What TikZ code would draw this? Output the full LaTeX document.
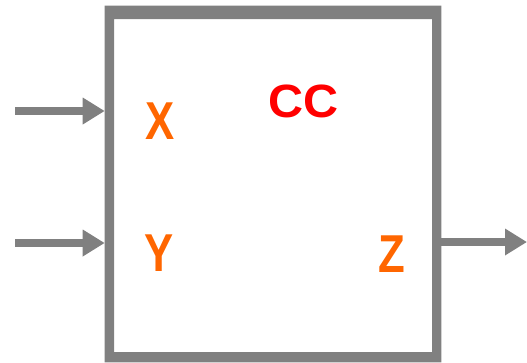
\documentclass[tikz,border=0pt]{standalone}
\usepackage{fontspec}
\setmainfont{Liberation Sans}
\usetikzlibrary{arrows.meta}
\definecolor{framegray}{HTML}{808080}
\definecolor{lblorange}{HTML}{FF6600}
\definecolor{lblred}{HTML}{FF0000}
\begin{document}
\begin{tikzpicture}[x=0.75pt,y=-0.75pt,
  sig/.style={draw=framegray,line width=6pt,-{Triangle[length=16.5pt,width=19pt]}},
  portlbl/.style={text=lblorange,font=\fontsize{40}{40}\selectfont\bfseries,inner sep=0pt,anchor=base,xscale=0.82,transform shape},
  titlelbl/.style={text=lblred,font=\fontsize{35}{36}\selectfont\bfseries,inner sep=0pt,anchor=base,xscale=1.04,transform shape}]
\useasboundingbox (0,0) rectangle (527,362);
\node[rectangle,minimum width=252pt,minimum height=267pt,inner sep=0pt] (box) at (273,184) {};
\coordinate (innerNW) at (114,19);
\coordinate (innerSE) at (432,352);
\fill[framegray,even odd rule] (box.north west) rectangle (box.south east) (innerNW) rectangle (innerSE);
\coordinate (inX) at (15,111);
\coordinate (inY) at (15,243);
\coordinate (outZ) at (527,242);
\draw[sig] (inX) -- (inX -| box.west);
\draw[sig] (inY) -- (inY -| box.west);
\draw[sig] (outZ -| box.east) -- (outZ);
\node[portlbl] (lx) at (160.5,139) {X};
\node[portlbl] (ly) at (159.5,271.5) {Y};
\node[portlbl] (lz) at (392,272) {Z};
\node[titlelbl] (lcc) at (304,117) {CC};
\end{tikzpicture}
\end{document}
